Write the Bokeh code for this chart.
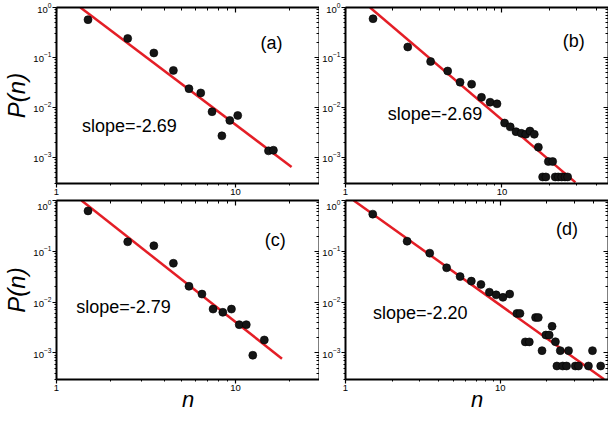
from bokeh.plotting import figure
from bokeh.models import LogAxis, FixedTicker, Label
from bokeh.layouts import column, row
from bokeh.embed import file_html
from bokeh.resources import INLINE

FONT = "Liberation Sans"
RED = "#e41e26"

# ---------------- data ----------------
X_TICKS = [1, 10]
X_MINOR = [2, 3, 4, 5, 6, 7, 8, 9, 20, 30, 40]
Y_TICKS = [1e-3, 1e-2, 1e-1, 1]
Y_MINOR = [k * 10.0 ** e for e in (-4, -3, -2, -1) for k in range(2, 10)]

a_n = [1.5, 2.5, 3.5, 4.5, 5.5, 6.4, 7.4, 8.4, 9.3, 10.3, 15.3, 16.3]
a_p = [0.57, 0.24, 0.123, 0.055, 0.0237, 0.0195, 0.0082, 0.0027, 0.0055, 0.0069, 0.00135, 0.00139]
a_fit_n = [1.36, 20.6]
a_fit_p = [1.0, 6.4e-4]

b_n = [1.5, 2.5, 3.5, 4.5, 5.4, 6.4, 7.4, 8.4, 9.3, 10.4, 11.3, 12.3, 13.3, 14.2, 15.1, 16.1,
       17.1, 18.2, 19.1, 19.8, 21.1, 21.9, 22.9, 24.1, 25.3, 26.3]
b_p = [0.596, 0.162, 0.083, 0.0535, 0.0319, 0.0292, 0.0159, 0.0127, 0.0118, 0.00487, 0.00408,
       0.00327, 0.00303, 0.0029, 0.00337, 0.0029, 0.0016, 4.06e-4, 4.06e-4, 8.26e-4, 8.26e-4,
       4.06e-4, 4.06e-4, 4.06e-4, 4.06e-4, 4.06e-4]
b_fit_n = [1.435, 29.5]
b_fit_p = [1.0, 3.16e-4]

c_n = [1.5, 2.5, 3.5, 4.5, 5.5, 6.5, 7.5, 8.5, 9.5, 10.5, 11.5, 12.5, 14.5]
c_p = [0.624, 0.154, 0.129, 0.0582, 0.0205, 0.0144, 0.0073, 0.0063, 0.0073, 0.0036, 0.0036,
       0.0009, 0.0018]
c_fit_n = [1.38, 18.2]
c_fit_p = [1.0, 7.7e-4]

d_n = [1.5, 2.5, 3.5, 4.5, 5.5, 6.5, 7.5, 8.5, 9.4, 10.4, 11.5, 12.8, 13.4, 14.5, 15.4, 16.9,
       17.6, 18.6, 19.7, 20.7, 21.6, 22.7, 23.2, 24.4, 25.3, 26.8, 27.6, 30.5, 32.0, 37.1,
       39.4, 44.5]
d_p = [0.539, 0.158, 0.092, 0.0474, 0.0318, 0.0259, 0.0223, 0.0157, 0.0139, 0.0124, 0.0144,
       0.0060, 0.0060, 0.00165, 0.00165, 0.00498, 0.00498, 0.00111, 0.00225, 0.00225, 0.00334,
       0.00166, 5.53e-4, 0.00111, 5.53e-4, 5.53e-4, 0.00111, 5.53e-4, 5.53e-4, 5.53e-4,
       0.00111, 5.53e-4]
d_fit_n = [1.13, 46.8]
d_fit_p = [1.0, 3.03e-4]

slopes = ["slope=-2.69", "slope=-2.69", "slope=-2.79", "slope=-2.20"]
tags = ["(a)", "(b)", "(c)", "(d)"]
y_label = "P(n)"
x_label = "n"


def style_main_axes(p):
    xa = p.below[0]
    xa.ticker = FixedTicker(ticks=X_TICKS, minor_ticks=X_MINOR)
    xa.major_label_overrides = {1: "1", 10: "10"}
    ya = p.left[0]
    ya.ticker = FixedTicker(ticks=Y_TICKS, minor_ticks=Y_MINOR)
    for ax in (xa, ya):
        ax.axis_line_width = 2
        ax.axis_line_color = "black"
        ax.major_tick_line_width = 1.2
        ax.minor_tick_line_width = 1
        ax.major_tick_out = 4
        ax.major_tick_in = 0
        ax.minor_tick_out = 2
        ax.minor_tick_in = 0
        ax.major_label_text_font = FONT
        ax.major_label_text_font_size = "9.5px"
        ax.major_label_text_color = "black"
        ax.major_label_standoff = 1
    # opposite sides: ticks pointing in, no labels
    top = LogAxis(ticker=FixedTicker(ticks=X_TICKS, minor_ticks=X_MINOR))
    right = LogAxis(ticker=FixedTicker(ticks=Y_TICKS, minor_ticks=Y_MINOR))
    for ax in (top, right):
        ax.axis_line_width = 2
        ax.axis_line_color = "black"
        ax.major_tick_in = 5
        ax.major_tick_out = 0
        ax.minor_tick_in = 3
        ax.minor_tick_out = 0
        ax.major_tick_line_width = 1.2
        ax.minor_tick_line_width = 1
        ax.major_label_text_font_size = "0px"
        ax.major_label_standoff = 0
    top.major_label_overrides = {1: "", 10: ""}
    right.major_label_overrides = {1e-3: "", 1e-2: "", 1e-1: "", 1: ""}
    p.add_layout(top, "above")
    p.add_layout(right, "right")


def panel(ns, ps, fit_n, fit_p, xmax, slope, slope_xy, tag, tag_xy,
          left, bottom, fw, fh, bl, bt, bb):
    p = figure(x_axis_type="log", y_axis_type="log", x_range=(1, xmax), y_range=(3e-4, 1),
               frame_width=fw, frame_height=fh, min_border_left=bl, min_border_right=0,
               min_border_top=bt, min_border_bottom=bb,
               output_backend="svg", toolbar_location=None)
    p.grid.visible = False
    p.outline_line_color = None
    p.background_fill_color = "white"
    p.border_fill_color = "white"
    style_main_axes(p)
    if left:
        ya = p.left[0]
        ya.axis_label = y_label
        ya.axis_label_text_font = FONT
        ya.axis_label_text_font_size = "24px"
        ya.axis_label_text_font_style = "italic"
        ya.axis_label_text_color = "black"
        ya.axis_label_standoff = 0
    if bottom:
        xa = p.below[0]
        xa.axis_label = x_label
        xa.axis_label_text_font = FONT
        xa.axis_label_text_font_size = "22px"
        xa.axis_label_text_font_style = "italic"
        xa.axis_label_text_color = "black"
        xa.axis_label_standoff = -7
    p.line(fit_n, fit_p, line_color=RED, line_width=2.5)
    p.scatter(ns, ps, size=8, fill_color="#151515", line_color="#000000", line_width=0.6)
    p.add_layout(Label(x=slope_xy[0], y=slope_xy[1], text=slope, text_font=FONT,
                       text_font_size="18px", text_color="black", text_baseline="alphabetic"))
    p.add_layout(Label(x=tag_xy[0], y=tag_xy[1], text=tag, text_font=FONT,
                       text_font_size="18px", text_color="black", text_baseline="alphabetic"))
    return p


pa = panel(a_n, a_p, a_fit_n, a_fit_p, 29.5, slopes[0], (1.39, 4.2e-3), tags[0], (13.8, 0.197),
           True, False, 263, 176, 51, 7, 16)
pb = panel(b_n, b_p, b_fit_n, b_fit_p, 48, slopes[1], (1.86, 7.3e-3), tags[1], (24.5, 0.212),
           False, False, 263, 176, 22, 7, 16)
pc = panel(c_n, c_p, c_fit_n, c_fit_p, 29.5, slopes[2], (1.29, 8.2e-3), tags[2], (14.6, 0.166),
           True, True, 263, 179, 51, 1, 34)
pd = panel(d_n, d_p, d_fit_n, d_fit_p, 50, slopes[3], (1.506, 6.0e-3), tags[3], (22.9, 0.281),
           False, True, 263, 179, 22, 1, 34)

layout = column(row(pa, pb), row(pc, pd))
open("out.html", "w").write(file_html(layout, INLINE))
